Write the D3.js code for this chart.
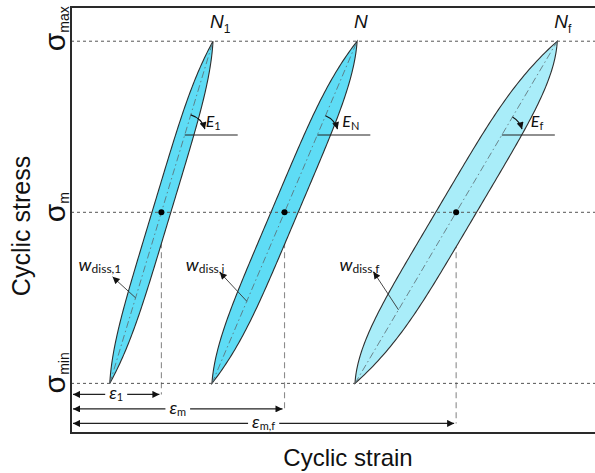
<!DOCTYPE html>
<html>
<head>
<meta charset="utf-8">
<script src="https://cdn.jsdelivr.net/npm/d3@7"></script>
<style>
  body { margin: 0; background: #fff; }
  svg { display: block; }
</style>
</head>
<body>
<div id="chart"></div>
<script>
var w = 595;
var h = 473;

// *** values ***
var stressLevels = [1, 0, -1],               // sigma_max, sigma_m, sigma_min (normalised)
    stressSubs = ["max", "m", "min"];
var cycleSubs = ["1", "", "f"],              // N_1, N, N_f
    strainAtMin = [0.074, 0.269, 0.542],     // strain at the sigma_min tip
    strainAtMax = [0.271, 0.546, 0.928],     // strain at the sigma_max tip
    loopHalfWidth = [0.018, 0.026, 0.039],   // half width (strain) of the loop at sigma_m
    modulusSubs = ["1", "N", "f"],
    energySubs = ["diss,1", "diss,i", "diss,f"],
    meanStrainSubs = ["1", "m", "m,f"];
// **********************************

var loopFill = ["#5edcf5", "#5edcf5", "#a9edf9"],
    sansFont = "'Liberation Sans', Arial, sans-serif",
    labelFont = "Lato, 'Open Sans', sans-serif";

var loops = cycleSubs.map(function(s, i) {
  return {
    i: i, sub: s,
    min: strainAtMin[i], max: strainAtMax[i],
    mean: (strainAtMin[i] + strainAtMax[i]) / 2,
    hw: loopHalfWidth[i]
  };
});

var svg = d3.select("#chart").append("svg")
    .attr("width", w)
    .attr("height", h);

var x = d3.scaleLinear().domain([0, 1]).range([71, 595]),
    y = d3.scaleLinear().domain([-1.29, 1.2]).range([433, 7]);

var defs = svg.append("defs");
defs.append("marker")
    .attr("id", "arrow")
    .attr("viewBox", "0 0 10 10")
    .attr("refX", 10).attr("refY", 5)
    .attr("markerUnits", "userSpaceOnUse")
    .attr("markerWidth", 9).attr("markerHeight", 7)
    .attr("orient", "auto-start-reverse")
  .append("path")
    .attr("d", "M0,0L10,5L0,10z")
    .attr("fill", "#111");

function axisStrain(d, t) { return d.mean + t * (d.max - d.min) / 2; }
// full in the middle, tapering to a point at both tips
function shape(t) { return 1 - Math.pow(Math.abs(t), 4.5); }

function loopPoints(d) {
  var pts = [], n = 120, k, t;
  for (k = 0; k <= n; k++) { t = -1 + 2 * k / n; pts.push([axisStrain(d, t) + d.hw * shape(t), t]); }
  for (k = n; k >= 0; k--) { t = -1 + 2 * k / n; pts.push([axisStrain(d, t) - d.hw * shape(t), t]); }
  return pts;
}

var line = d3.line()
    .x(function(p) { return x(p[0]); })
    .y(function(p) { return y(p[1]); });

// write "base" + subscript into a text element
function subText(sel, base, sub, size, subSize, italic, subDy) {
  sel.append("tspan")
      .style("font-size", size + "px")
      .style("font-style", italic ? "italic" : "normal")
      .text(base);
  if (sub) {
    sel.append("tspan")
        .attr("dy", subDy)
        .style("font-size", subSize + "px")
        .style("font-style", "normal")
        .text(sub);
  }
  return sel;
}

// vertical dashed guides from each mean point down to its strain arrow
var arrowY = function(i) { return y(-1) + 11 + 14.5 * i; };
svg.append("g").selectAll("line")
  .data(loops)
  .enter().append("line")
    .attr("x1", function(d) { return x(d.mean); })
    .attr("x2", function(d) { return x(d.mean); })
    .attr("y1", y(0))
    .attr("y2", function(d) { return arrowY(d.i); })
    .attr("stroke", "#8c8c8c")
    .attr("stroke-width", 1.1)
    .attr("stroke-dasharray", "6,4");

// the hysteresis loops
svg.append("g").selectAll("path")
  .data(loops)
  .enter().append("path")
    .attr("d", function(d) { return line(loopPoints(d)) + "Z"; })
    .attr("fill", function(d) { return loopFill[d.i]; })
    .attr("stroke", "#2e2e2e")
    .attr("stroke-width", 1.1);

// dash-dot loop axes
svg.append("g").selectAll("line")
  .data(loops)
  .enter().append("line")
    .attr("x1", function(d) { return x(d.min); })
    .attr("y1", y(-1))
    .attr("x2", function(d) { return x(d.max); })
    .attr("y2", y(1))
    .attr("stroke", "#5a6a70")
    .attr("stroke-width", 0.8)
    .attr("stroke-dasharray", "7,3,1.5,3");

// horizontal stress levels
svg.append("g").selectAll("line")
  .data(stressLevels)
  .enter().append("line")
    .attr("x1", x(0)).attr("x2", w)
    .attr("y1", function(d) { return y(d); })
    .attr("y2", function(d) { return y(d); })
    .attr("stroke", "#555")
    .attr("stroke-width", 1)
    .attr("stroke-dasharray", "3,3");

// frame
svg.append("path")
    .attr("d", "M" + w + "," + y.range()[1] + "H" + x(0) + "V" + y.range()[0] + "H" + w)
    .attr("fill", "none")
    .attr("stroke", "#2a2a2a")
    .attr("stroke-width", 2);

// mean points
svg.append("g").selectAll("circle")
  .data(loops)
  .enter().append("circle")
    .attr("cx", function(d) { return x(d.mean); })
    .attr("cy", y(0))
    .attr("r", 3)
    .attr("fill", "#000");

// stress labels (rotated)
stressLevels.forEach(function(s, i) {
  var t = svg.append("text")
      .attr("transform", "translate(65," + (y(s) + 10) + ") rotate(-90)")
      .attr("fill", "#111")
      .style("font-family", sansFont);
  subText(t, "\u03c3", stressSubs[i], 30, 14, false, 4);
});

// cycle labels N
loops.forEach(function(d) {
  var t = svg.append("text")
      .attr("x", x(d.max) - 3)
      .attr("y", 28)
      .attr("fill", "#111")
      .style("font-family", sansFont);
  subText(t, "N", d.sub, 19, 12, true, 5);
});

// modulus angle marks
var tE = y.invert(135);
loops.forEach(function(d, i) {
  var cx = x(axisStrain(d, tE)), cy = y(tE), r = 21;
  var a0 = Math.atan2(y(-1) - y(1), x(d.max) - x(d.min)),
      a1 = 16 * Math.PI / 180;
  svg.append("line")
      .attr("x1", cx).attr("x2", cx + 53)
      .attr("y1", cy).attr("y2", cy)
      .attr("stroke", "#222").attr("stroke-width", 1.2);
  svg.append("path")
      .attr("d", "M" + (cx + r * Math.cos(a0)) + "," + (cy - r * Math.sin(a0)) +
                 "A" + r + "," + r + " 0 0 1 " + (cx + r * Math.cos(a1)) + "," + (cy - r * Math.sin(a1)))
      .attr("fill", "none")
      .attr("stroke", "#111").attr("stroke-width", 1.1)
      .attr("marker-end", "url(#arrow)");
  var t = svg.append("text")
      .attr("x", cx + 21 + 4 * i)
      .attr("y", 127)
      .attr("fill", "#111")
      .style("font-family", labelFont);
  subText(t, "E", modulusSubs[i], 16, 11, true, 3);
});

// dissipated energy pointers
var energyStart = [-0.5, -0.52, -0.57],
    energyVec = [[-23, -21], [-27, -29], [-25, -38]];
loops.forEach(function(d, i) {
  var sx = x(axisStrain(d, energyStart[i])), sy = y(energyStart[i]),
      ex = sx + energyVec[i][0], ey = sy + energyVec[i][1];
  svg.append("line")
      .attr("x1", sx).attr("y1", sy)
      .attr("x2", ex).attr("y2", ey)
      .attr("stroke", "#333").attr("stroke-width", 0.9)
      .attr("marker-end", "url(#arrow)");
  var t = svg.append("text")
      .attr("x", ex - 34)
      .attr("y", 271)
      .attr("fill", "#111")
      .style("font-family", labelFont);
  subText(t, "w", energySubs[i], 18, 12, true, 2);
});

// mean strain arrows
loops.forEach(function(d, i) {
  var yy = arrowY(i), x1 = x(0) + 2, x2 = x(d.mean) - 2;
  svg.append("line")
      .attr("x1", x1).attr("x2", x2)
      .attr("y1", yy).attr("y2", yy)
      .attr("stroke", "#222").attr("stroke-width", 1.1)
      .attr("marker-start", "url(#arrow)")
      .attr("marker-end", "url(#arrow)");
  var g = svg.append("g");
  var bg = g.append("rect").attr("fill", "#fff");
  var t = g.append("text")
      .attr("x", (x1 + x2) / 2)
      .attr("y", yy + 5)
      .attr("text-anchor", "middle")
      .attr("fill", "#111")
      .style("font-family", labelFont);
  subText(t, "\u03b5", meanStrainSubs[i], 18, 11, true, 2);
  var b = t.node().getBBox();
  bg.attr("x", b.x - 4).attr("y", yy - 3).attr("width", b.width + 8).attr("height", 6);
});

// axis titles
svg.append("text")
    .attr("transform", "translate(30,226) rotate(-90)")
    .attr("text-anchor", "middle")
    .attr("fill", "#111")
    .style("font-family", sansFont)
    .style("font-size", "25px")
    .text("Cyclic stress");

svg.append("text")
    .attr("x", 348)
    .attr("y", 466)
    .attr("text-anchor", "middle")
    .attr("fill", "#111")
    .style("font-family", sansFont)
    .style("font-size", "24px")
    .text("Cyclic strain");
</script>
</body>
</html>
